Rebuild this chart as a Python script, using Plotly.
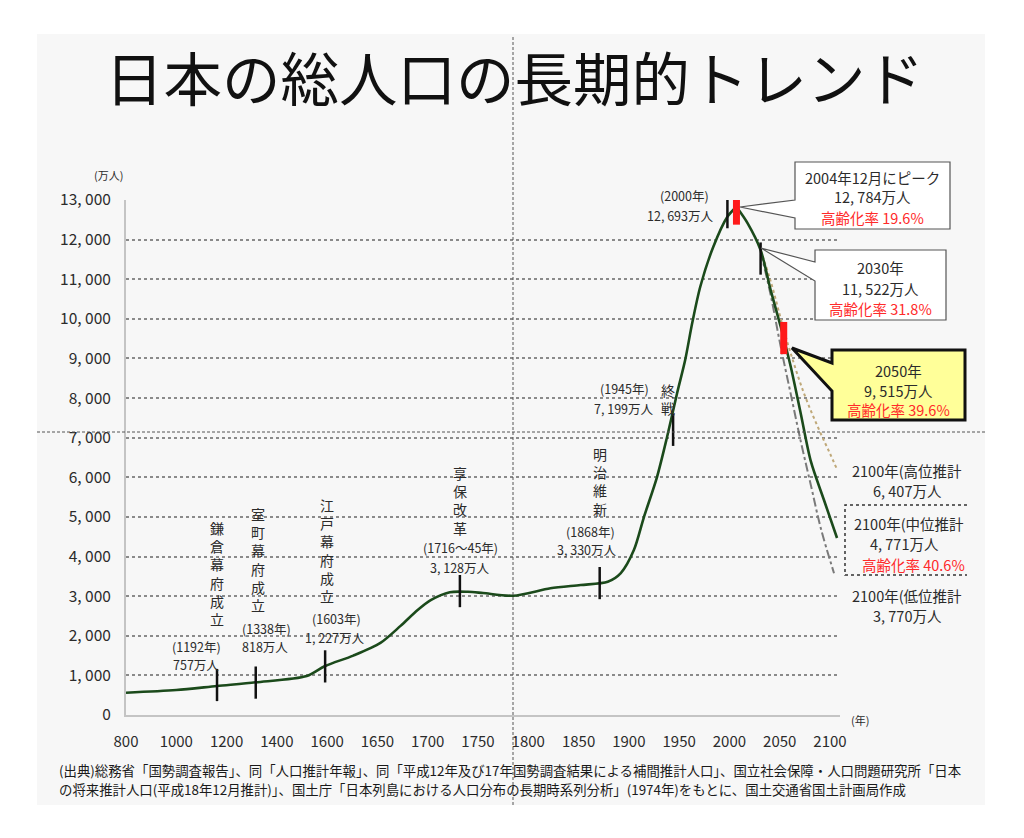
import plotly.graph_objects as go

# ---------------- data ----------------
tick_years = [800, 1000, 1200, 1400, 1600, 1650, 1700, 1750, 1800, 1850, 1900, 1950, 2000, 2050, 2100]
tick_labels = [str(y) for y in tick_years]
y_ticks = [0, 1000, 2000, 3000, 4000, 5000, 6000, 7000, 8000, 9000, 10000, 11000, 12000, 13000]
y_tick_labels = ["0", "1, 000", "2, 000", "3, 000", "4, 000", "5, 000", "6, 000", "7, 000",
                 "8, 000", "9, 000", "10, 000", "11, 000", "12, 000", "13, 000"]

# historical population (万人), positions as drawn on the chart
hist_years = [800, 1000, 1162, 1316, 1519, 1592, 1626, 1653, 1673, 1690, 1703, 1722, 1740, 1755,
              1785, 1822, 1852, 1879, 1892, 1905, 1915, 1928, 1938, 1948, 1956, 1963, 1971,
              1984, 1998, 2007]
hist_pop = [563, 630, 732, 825, 984, 1237, 1500, 1820, 2250, 2650, 2900, 3100, 3110, 3079,
            3011, 3198, 3281, 3364, 3584, 4164, 4997, 6007, 7017, 8127, 8960, 9894, 10810,
            11820, 12577, 12830]

# projections (中位 / 高位 / 低位)
mid_years = [2007, 2018, 2031, 2041, 2051, 2061, 2071, 2081, 2094, 2107]
mid_pop = [12830, 12418, 11737, 10727, 9800, 8791, 7600, 6400, 5427, 4467]
high_years = [2031, 2041, 2057, 2074, 2090, 2100, 2107]
high_pop = [11737, 10950, 9460, 8130, 7150, 6600, 6200]
low_years = [2031, 2041, 2051, 2061, 2071, 2081, 2091, 2104]
low_pop = [11700, 10600, 9300, 8100, 6900, 5800, 4700, 3580]

event_years = [1162, 1316, 1592, 1732, 1871, 1944, 1998, 2031]
event_pop = [757, 818, 1227, 3128, 3330, 7199, 12693, 11522]
peak_years = [2007, 2054]
peak_pop = [12784, 9515]


def to_axis(year):
    if year <= 1600:
        return (year - 800) / 200.0
    return 4 + (year - 1600) / 50.0


# ---------------- layout helpers (pixel -> paper) ----------------
L, R, T, B = 126, 840, 200, 715
W, H = 1024, 838


def px(x):
    return (x - L) / (R - L)


def py(y):
    return (B - y) / (B - T)


FONT = "Noto Sans CJK JP"
TXT = "#2b2b2b"
RED = "#ff2a2a"

fig = go.Figure()

fig.add_trace(go.Scatter(x=[to_axis(y) for y in low_years], y=low_pop, mode="lines",
                         line=dict(color="#7a7a7a", width=2, dash="dashdot", shape="spline"),
                         showlegend=False, hoverinfo="skip"))
fig.add_trace(go.Scatter(x=[to_axis(y) for y in high_years], y=high_pop, mode="lines",
                         line=dict(color="#bfa878", width=2, dash="dot", shape="spline"),
                         showlegend=False, hoverinfo="skip"))
fig.add_trace(go.Scatter(x=[to_axis(y) for y in hist_years], y=hist_pop, mode="lines",
                         line=dict(color="#1b4a1b", width=2.6, shape="spline", smoothing=0.8),
                         showlegend=False, hoverinfo="skip"))
fig.add_trace(go.Scatter(x=[to_axis(y) for y in mid_years], y=mid_pop, mode="lines",
                         line=dict(color="#1b4a1b", width=2.6, shape="spline", smoothing=0.8),
                         showlegend=False, hoverinfo="skip"))
fig.add_trace(go.Scatter(x=[to_axis(y) for y in event_years], y=event_pop, mode="markers",
                         marker=dict(symbol="line-ns", size=23, line=dict(color="#111111", width=2.5)),
                         showlegend=False, hoverinfo="skip"))
fig.add_trace(go.Scatter(x=[to_axis(y) for y in peak_years], y=peak_pop, mode="markers",
                         marker=dict(symbol="line-ns", size=23, line=dict(color="#ff1a1a", width=7)),
                         showlegend=False, hoverinfo="skip"))

shapes = []
# light panel
shapes.append(dict(type="rect", xref="paper", yref="paper", x0=px(37), x1=px(985), y0=py(805), y1=py(34),
                   fillcolor="#f7f7f7", line=dict(width=0), layer="below"))


def poly(points, fill, color, width, dash="solid", close=True):
    d = "M " + " L ".join(f"{px(a):.5f},{py(b):.5f}" for a, b in points)
    if close:
        d += " Z"
    return dict(type="path", xref="paper", yref="paper", path=d, fillcolor=fill,
                line=dict(color=color, width=width, dash=dash), layer="above")


# box 1: peak
shapes.append(poly([(795, 162), (950, 162), (950, 229), (795, 229), (795, 218), (740, 207), (795, 200)],
                   "#ffffff", "#555555", 1.2))
# box 2: 2030
shapes.append(poly([(815, 250), (946, 250), (946, 320), (815, 320), (815, 281), (761, 248), (815, 262)],
                   "#ffffff", "#555555", 1.2))
# box 3: 2050 (yellow callout)
shapes.append(poly([(832, 350), (965, 350), (965, 420), (832, 420), (832, 391), (792, 348), (832, 363)],
                   "#ffff99", "#111111", 3))
# box 4: 2100 mid (dotted, clipped on the right)
shapes.append(poly([(967, 505), (845, 505), (845, 575), (967, 575)], "rgba(0,0,0,0)", "#333333", 1.5,
                   dash="dot", close=False))
# crosshair guide lines
shapes.append(dict(type="line", xref="paper", yref="paper", x0=px(513), x1=px(513), y0=py(805), y1=py(35),
                   line=dict(color="#555555", width=1, dash="3px,2px"), layer="above"))
shapes.append(dict(type="line", xref="paper", yref="paper", x0=px(37), x1=px(985), y0=py(432), y1=py(432),
                   line=dict(color="#555555", width=1, dash="3px,2px"), layer="above"))

ann = []


def text(x, y, s, size=12.5, color=TXT, anchor="center"):
    ann.append(dict(x=px(x), y=py(y), xref="paper", yref="paper", text=s, showarrow=False,
                    xanchor=anchor, yanchor="middle", align=anchor if anchor != "center" else "center",
                    font=dict(family=FONT, size=size, color=color)))


def vtext(x, ymid, s, size=14):
    text(x, ymid, "<br>".join(list(s)), size=size)


# title
text(514, 75, "日本の総人口の長期的トレンド", size=58.5, color="#111111")
# unit labels
text(108, 175, "(万人)", size=11)
text(860, 720, "(年)", size=11)

# event labels
vtext(217, 573, "鎌倉幕府成立")
text(196, 646, "(1192年)")
text(196, 664, "757万人")
vtext(258, 559, "室町幕府成立")
text(266, 628, "(1338年)")
text(265, 646, "818万人")
vtext(327, 550, "江戸幕府成立")
text(336, 618, "(1603年)")
text(335, 637, "1, 227万人")
vtext(460, 500, "享保改革")
text(460, 547, "(1716～45年)")
text(460, 567, "3, 128万人")
vtext(600, 481, "明治維新")
text(590, 531, "(1868年)")
text(587, 549, "3, 330万人")
text(624, 388, "(1945年)")
text(624, 408, "7, 199万人")
vtext(668, 399, "終戦")
text(684, 195, "(2000年)")
text(680, 215, "12, 693万人")

# box texts
text(872, 177, "2004年12月にピーク", size=14.5)
text(872, 197, "12, 784万人", size=14.5)
text(872, 217, "高齢化率 19.6%", size=14.5, color=RED)
text(880, 267, "2030年", size=14.5)
text(880, 288, "11, 522万人", size=14.5)
text(880, 308, "高齢化率 31.8%", size=14.5, color=RED)
text(898, 370, "2050年", size=14.5)
text(898, 390, "9, 515万人", size=14.5)
text(898, 409, "高齢化率 39.6%", size=14.5, color=RED)
text(907, 470, "2100年(高位推計", size=14.5)
text(907, 490, "6, 407万人", size=14.5)
text(909, 523, "2100年(中位推計", size=14.5)
text(905, 543, "4, 771万人", size=14.5)
text(913, 564, "高齢化率 40.6%", size=14.5, color=RED)
text(907, 595, "2100年(低位推計", size=14.5)
text(907, 615, "3, 770万人", size=14.5)

# source footer
text(57, 770, "(出典)総務省「国勢調査報告」、同「人口推計年報」、同「平成12年及び17年国勢調査結果による補間推計人口」、国立社会保障・人口問題研究所「日本",
     size=13.4, color="#1a1a1a", anchor="left")
text(57, 789, "の将来推計人口(平成18年12月推計)」、国土庁「日本列島における人口分布の長期時系列分析」(1974年)をもとに、国土交通省国土計画局作成",
     size=13.4, color="#1a1a1a", anchor="left")

fig.update_layout(
    width=W, height=H,
    margin=dict(l=L, r=W - R, t=T, b=H - B, pad=0),
    paper_bgcolor="#ffffff",
    plot_bgcolor="rgba(0,0,0,0)",
    font=dict(family=FONT, color=TXT),
    shapes=shapes,
    annotations=ann,
    showlegend=False,
    xaxis=dict(range=[0, to_axis(2100) + (R - 830) / 50.25], tickmode="array",
               tickvals=[to_axis(y) for y in tick_years], ticktext=tick_labels,
               showgrid=False, zeroline=False, showline=True, linecolor="#c4c4c4", linewidth=2,
               ticks="", ticklabelstandoff=12, automargin=False,
               tickfont=dict(size=15, color=TXT, family=FONT)),
    yaxis=dict(range=[0, 13000], tickmode="array", tickvals=y_ticks, ticktext=y_tick_labels,
               showgrid=True, gridcolor="#8a8a8a", gridwidth=1.5, griddash="dot",
               zeroline=False, showline=True, linecolor="#c4c4c4", linewidth=2,
               ticks="", ticklabelstandoff=10, automargin=False,
               tickfont=dict(size=15.5, color=TXT, family=FONT)),
)

fig.write_html("out.html", config={"displayModeBar": False},
               post_script="document.body.style.margin='0';document.body.style.overflow='hidden';")
